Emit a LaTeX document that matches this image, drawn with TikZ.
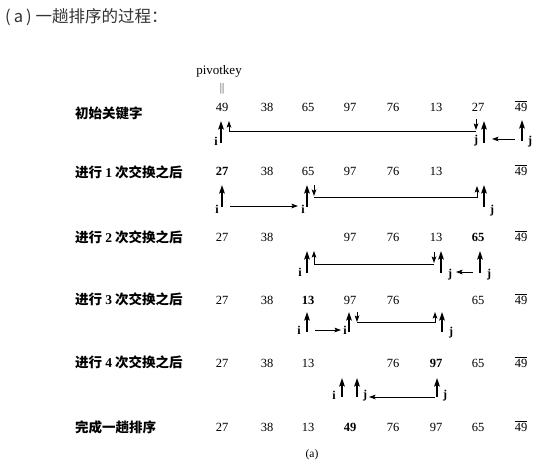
\documentclass[tikz,border=0pt]{standalone}
\usepackage{fontspec}
\setmainfont{Liberation Serif}
\newfontfamily\cjk{Noto Sans CJK SC}
\usetikzlibrary{arrows.meta}
\begin{document}
\begin{tikzpicture}[x=1pt,y=-1pt,
  num/.style={font=\fontsize{12.5}{14}\selectfont, inner sep=0pt, anchor=base},
  bnum/.style={num, font=\fontsize{12.5}{14}\selectfont\bfseries},
  lab/.style={font=\cjk\bfseries\fontsize{13.5}{15}\selectfont, anchor=west, inner sep=0pt},
  ttl/.style={font=\cjk\fontsize{16.5}{18}\selectfont, anchor=west, inner sep=0pt, text=black!80},
  idx/.style={font=\bfseries\fontsize{12}{13}\selectfont, inner sep=0pt},
  ptr/.style={-{Stealth[length=8.5pt,width=5.6pt,inset=1.5pt]}, line width=1.1pt},
  sptr/.style={-{Stealth[length=6.5pt,width=4.6pt,inset=1.2pt]}, line width=0.9pt},
  link/.style={line width=0.9pt, -{Stealth[length=6.5pt,width=4.6pt,inset=1.2pt]}}
]
\useasboundingbox (0,0) rectangle (554,466);
\fill[white] (0,0) rectangle (554,466);

% title
\node[ttl] (title) at (5,17) {(\hspace{3pt}a\hspace{3pt})\hspace{4pt}一趟排序的过程：};

% pivotkey
\node[font=\fontsize{13}{14}\selectfont, inner sep=0pt] (pk) at (219,71) {pivotkey};
\node[inner sep=0pt, font=\fontsize{11}{12}\selectfont] (eq) at (222,89) {$\|$};

% row labels
\node[lab] (L1) at (75,113) {初始关键字};
\node[lab] (L2) at (75,172) {进行 {\rmfamily\bfseries 1} 次交换之后};
\node[lab] (L3) at (75,237) {进行 {\rmfamily\bfseries 2} 次交换之后};
\node[lab] (L4) at (75,299) {进行 {\rmfamily\bfseries 3} 次交换之后};
\node[lab] (L5) at (75,362) {进行 {\rmfamily\bfseries 4} 次交换之后};
\node[lab] (L6) at (75,427) {完成一趟排序};

% row 1
\node[num] (a1) at (222,111) {49};
\node[num] (a2) at (267,111) {38};
\node[num] (a3) at (308,111) {65};
\node[num] (a4) at (350,111) {97};
\node[num] (a5) at (393,111) {76};
\node[num] (a6) at (436,111) {13};
\node[num] (a7) at (478,111) {27};
\node[num] (a8) at (521,111) {$\overline{\hbox{49}}$};

% row 2
\node[bnum] (b1) at (222,175) {27};
\node[num] (b2) at (267,175) {38};
\node[num] (b3) at (308,175) {65};
\node[num] (b4) at (350,175) {97};
\node[num] (b5) at (393,175) {76};
\node[num] (b6) at (436,175) {13};
\node[num] (b8) at (521,175) {$\overline{\hbox{49}}$};

% row 3
\node[num] (c1) at (222,241) {27};
\node[num] (c2) at (267,241) {38};
\node[num] (c4) at (350,241) {97};
\node[num] (c5) at (393,241) {76};
\node[num] (c6) at (436,241) {13};
\node[bnum] (c7) at (478,241) {65};
\node[num] (c8) at (521,241) {$\overline{\hbox{49}}$};

% row 4
\node[num] (d1) at (222,304) {27};
\node[num] (d2) at (267,304) {38};
\node[bnum] (d3) at (308,304) {13};
\node[num] (d4) at (350,304) {97};
\node[num] (d5) at (393,304) {76};
\node[num] (d7) at (478,304) {65};
\node[num] (d8) at (521,304) {$\overline{\hbox{49}}$};

% row 5
\node[num] (e1) at (222,367) {27};
\node[num] (e2) at (267,367) {38};
\node[num] (e3) at (308,367) {13};
\node[num] (e5) at (393,367) {76};
\node[bnum] (e6) at (436,367) {97};
\node[num] (e7) at (478,367) {65};
\node[num] (e8) at (521,367) {$\overline{\hbox{49}}$};

% row 6
\node[num] (f1) at (222,431) {27};
\node[num] (f2) at (267,431) {38};
\node[num] (f3) at (308,431) {13};
\node[bnum] (f4) at (350,431) {49};
\node[num] (f5) at (393,431) {76};
\node[num] (f6) at (436,431) {97};
\node[num] (f7) at (478,431) {65};
\node[num] (f8) at (521,431) {$\overline{\hbox{49}}$};

\node[inner sep=0pt, font=\fontsize{11.5}{13}\selectfont] (cap) at (312,455) {(a)};

% ---------- pointers row 1
\draw[ptr] (221,143) coordinate (p1i) -- ++(0,-22);
\node[idx] (i1) at (216,141) {i};
\draw[ptr] (484,143) coordinate (p1j) -- ++(0,-22);
\node[idx] (j1a) at (476,141) {j};
\draw[ptr] (522,141) coordinate (p1k) -- ++(0,-21);
\node[idx] (j1b) at (530,142) {j};
\draw[sptr] (515,139) coordinate (m1s) -- (492,139) coordinate (m1e);
\draw[sptr] (476,119) coordinate (s1a) -- ++(0,11);
\draw[link] (476,131) -- (229,131) -- (229,121) coordinate (s1b);

% ---------- pointers row 2
\draw[ptr] (222,207) coordinate (p2i) -- ++(0,-22);
\node[idx] (i2a) at (217,209) {i};
\draw[sptr] (230,206) coordinate (m2s) -- (298,206) coordinate (m2e);
\node[idx] (i2b) at (303,209) {i};
\draw[ptr] (307,207) coordinate (p2k) -- ++(0,-22);
\draw[sptr] (314,185) coordinate (s2a) -- ++(0,11);
\draw[link] (314,197) -- (477,197) -- (477,186) coordinate (s2b);
\draw[ptr] (484,207) coordinate (p2j) -- ++(0,-22);
\node[idx] (j2) at (492,211) {j};

% ---------- pointers row 3
\draw[ptr] (307,273) coordinate (p3i) -- ++(0,-22);
\node[idx] (i3) at (300,272) {i};
\draw[link] (434,264) -- (314,264) -- (314,251) coordinate (s3b);
\draw[sptr] (434,252) coordinate (s3a) -- ++(0,11);
\draw[ptr] (441,273) coordinate (p3j) -- ++(0,-22);
\node[idx] (j3a) at (450,275) {j};
\draw[sptr] (473,272) coordinate (m3s) -- (456,272) coordinate (m3e);
\draw[ptr] (480,273) coordinate (p3k) -- ++(0,-22);
\node[idx] (j3b) at (489,275) {j};

% ---------- pointers row 4
\draw[ptr] (307,332) coordinate (p4i) -- ++(0,-20);
\node[idx] (i4a) at (299,330) {i};
\draw[sptr] (315,330) coordinate (m4s) -- (341,330) coordinate (m4e);
\node[idx] (i4b) at (345,330) {i};
\draw[ptr] (349,332) coordinate (p4k) -- ++(0,-20);
\draw[sptr] (357,312) coordinate (s4a) -- ++(0,10);
\draw[link] (357,322) -- (435,322) -- (435,312) coordinate (s4b);
\draw[ptr] (442,332) coordinate (p4j) -- ++(0,-20);
\node[idx] (j4) at (451,333) {j};

% ---------- pointers row 5
\draw[ptr] (342,397) coordinate (p5i) -- ++(0,-19);
\node[idx] (i5) at (334,395) {i};
\draw[ptr] (357,397) coordinate (p5j) -- ++(0,-19);
\node[idx] (j5a) at (365,396) {j};
\draw[sptr] (435,397) coordinate (m5s) -- (369,397) coordinate (m5e);
\draw[ptr] (437,397) coordinate (p5k) -- ++(0,-19);
\node[idx] (j5b) at (445,396) {j};
\end{tikzpicture}
\end{document}
